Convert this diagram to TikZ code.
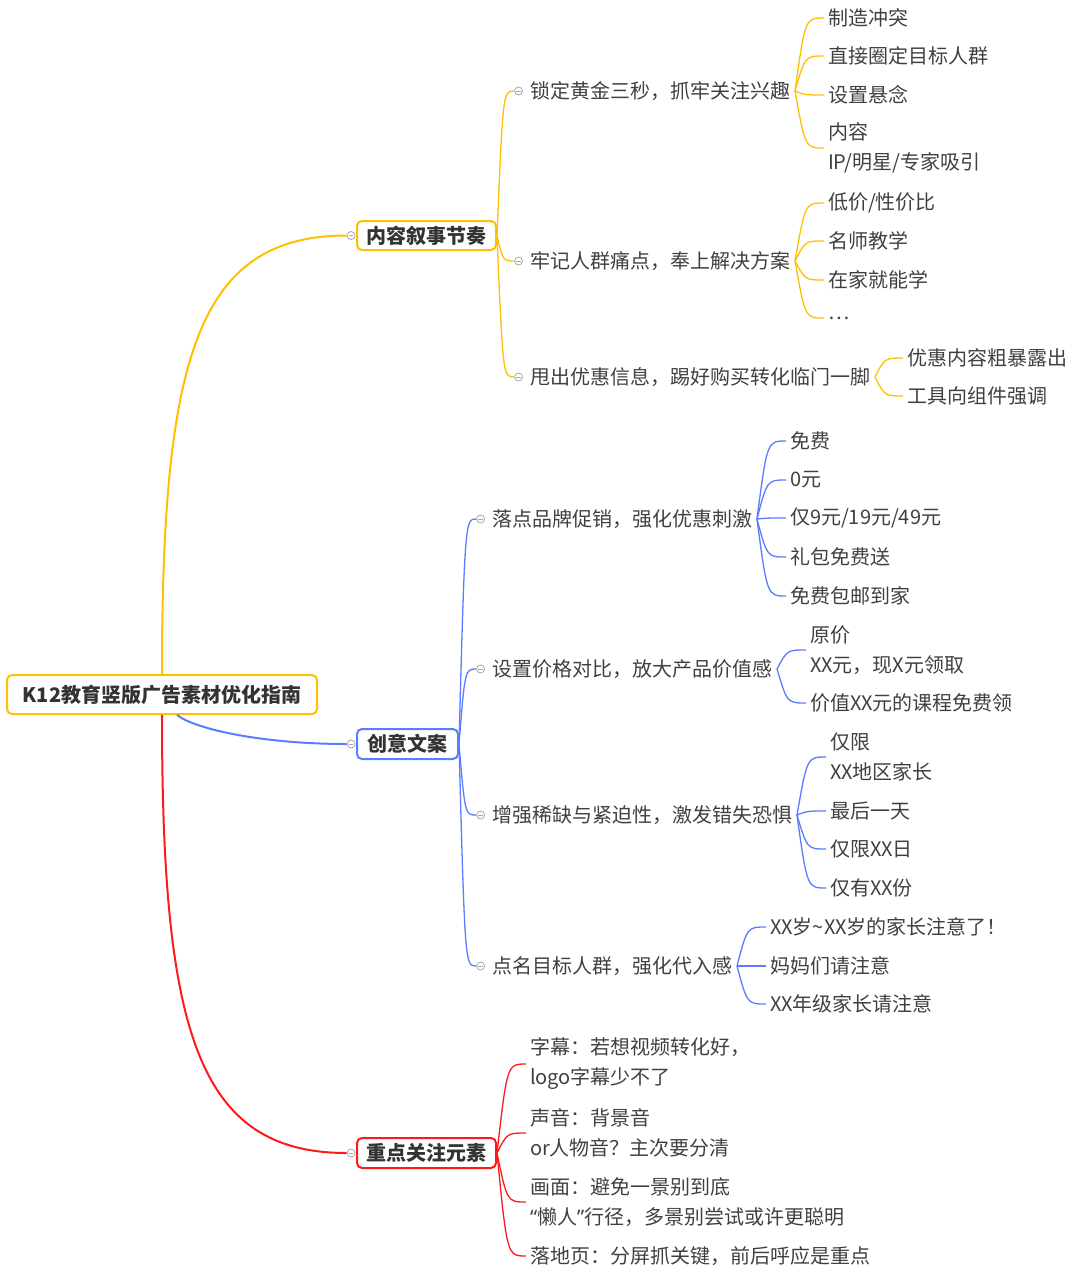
\documentclass[tikz,border=0pt]{standalone}
\usepackage{fontspec}
\setmainfont{Noto Sans CJK SC}
\newfontfamily\quotefont{Noto Sans}
\usetikzlibrary{positioning,calc}

\definecolor{oline}{HTML}{FFC000}
\definecolor{bline}{HTML}{5B7CFF}
\definecolor{rline}{HTML}{FF1A1A}
\definecolor{txt}{HTML}{404040}
\definecolor{foldgray}{HTML}{A8A8A8}

\tikzset{
  topic/.style={draw, line width=2pt, rounded corners=5pt, inner sep=0, fill=white,
    text=txt!80!black, font=\fontsize{20}{30}\selectfont\bfseries},
  sub/.style={inner sep=0, outer xsep=5pt, anchor=west, text=txt, font=\fontsize{20}{30}\selectfont},
  leaf/.style={inner sep=0, outer xsep=4pt, anchor=west, align=left, text=txt, font=\fontsize{20}{30}\selectfont},
  fold/.style={circle, draw=foldgray, fill=white, line width=0.8pt, minimum size=8pt, inner sep=0,
    path picture={\draw[foldgray, line width=0.8pt] ([xshift=-2.2pt]path picture bounding box.center) -- ([xshift=2.2pt]path picture bounding box.center);}},
  fan/.style={to path={let \p1=(\tikztostart), \p2=(\tikztotarget) in
    .. controls ({\x1+0.35*(\x2-\x1)},\y2) .. (\tikztotarget)}},
  trunk/.style={line width=2pt},
  twig/.style={line width=1.3pt},
}

\begin{document}
\begin{tikzpicture}[x=1pt,y=-1pt]
  \useasboundingbox (0,0) rectangle (1080,1278);

  % root and main topics
  \node[topic, draw=oline, minimum width=310pt, minimum height=39pt] (r) at (162,694.5) {K12教育竖版广告素材优化指南};
  \node[topic, draw=oline, minimum width=139pt, minimum height=29pt] (b1) at (426.5,235.5) {内容叙事节奏};
  \node[topic, draw=bline, minimum width=101pt, minimum height=30pt] (b2) at (407.5,744) {创意文案};
  \node[topic, draw=rline, minimum width=139pt, minimum height=30pt] (b3) at (426.5,1153) {重点关注元素};
  \node[fold, left=0.5pt of b1] (c1) {};
  \node[fold, left=0.5pt of b2] (c2) {};
  \node[fold, left=0.5pt of b3] (c3) {};

  % sub topics
  \node[sub] (s11) at (525,91) {锁定黄金三秒，抓牢关注兴趣};
  \node[sub] (s12) at (525,261) {牢记人群痛点，奉上解决方案};
  \node[sub] (s13) at (525,377) {甩出优惠信息，踢好购买转化临门一脚};
  \node[sub] (s21) at (487,519) {落点品牌促销，强化优惠刺激};
  \node[sub] (s22) at (487,669) {设置价格对比，放大产品价值感};
  \node[sub] (s23) at (487,815) {增强稀缺与紧迫性，激发错失恐惧};
  \node[sub] (s24) at (487,966) {点名目标人群，强化代入感};
  \node[fold, left=2pt of s11] (c11) {};
  \node[fold, left=2pt of s12] (c12) {};
  \node[fold, left=2pt of s13] (c13) {};
  \node[fold, left=2pt of s21] (c21) {};
  \node[fold, left=2pt of s22] (c22) {};
  \node[fold, left=2pt of s23] (c23) {};
  \node[fold, left=2pt of s24] (c24) {};

  % leaves
  \node[leaf] (l111) at (824,18) {制造冲突};
  \node[leaf] (l112) at (824,56) {直接圈定目标人群};
  \node[leaf] (l113) at (824,95) {设置悬念};
  \node[leaf] (l114) at (824,148) {内容\\IP/明星/专家吸引};
  \node[leaf] (l121) at (824,203) {低价/性价比};
  \node[leaf] (l122) at (824,241) {名师教学};
  \node[leaf] (l123) at (824,280) {在家就能学};
  \node[leaf] (l124) at (824,318) {…};
  \node[leaf] (l131) at (903,358) {优惠内容粗暴露出};
  \node[leaf] (l132) at (903,396) {工具向组件强调};

  \node[leaf] (l211) at (786,441) {免费};
  \node[leaf] (l212) at (786,480) {0元};
  \node[leaf] (l213) at (786,518) {仅9元/19元/49元};
  \node[leaf] (l214) at (786,557) {礼包免费送};
  \node[leaf] (l215) at (786,596) {免费包邮到家};
  \node[leaf] (l221) at (806,650) {原价\\XX元，现X元领取};
  \node[leaf] (l222) at (806,703) {价值XX元的课程免费领};
  \node[leaf] (l231) at (826,757) {仅限\\XX地区家长};
  \node[leaf] (l232) at (826,811) {最后一天};
  \node[leaf] (l233) at (826,849) {仅限XX日};
  \node[leaf] (l234) at (826,888) {仅有XX份};
  \node[leaf] (l241) at (766,927) {XX岁\textasciitilde XX岁的家长注意了！};
  \node[leaf] (l242) at (766,966) {妈妈们请注意};
  \node[leaf] (l243) at (766,1004) {XX年级家长请注意};

  \node[leaf] (l31) at (526,1064) {字幕：若想视频转化好，\\logo字幕少不了};
  \node[leaf] (l32) at (526,1133) {声音：背景音\\or人物音？主次要分清};
  \node[leaf] (l33) at (526,1202) {画面：避免一景别到底\\{\quotefont “}懒人{\quotefont ”}行径，多景别尝试或许更聪明};
  \node[leaf] (l34) at (526,1256) {落地页：分屏抓关键，前后呼应是重点};

  % root connectors
  \draw[oline, trunk] (r.north) .. controls +(0,-315) and +(-150,0) .. (c1.west);
  \draw[bline, trunk] ([xshift=15pt]r.south) .. controls +(18,14) and +(-85,0) .. (c2.west);
  \draw[rline, trunk] (r.south) .. controls +(0,315) and +(-150,0) .. (c3.west);

  % branch connectors
  \draw[oline, twig] (b1.east) to[fan] (c11.west);
  \draw[oline, twig] (b1.east) to[fan] (c12.west);
  \draw[oline, twig] (b1.east) to[fan] (c13.west);
  \draw[bline, twig] (b2.east) to[fan] (c21.west);
  \draw[bline, twig] (b2.east) to[fan] (c22.west);
  \draw[bline, twig] (b2.east) to[fan] (c23.west);
  \draw[bline, twig] (b2.east) to[fan] (c24.west);

  % leaf connectors
  \draw[oline, twig] (s11.east) to[fan] (l111.west);
  \draw[oline, twig] (s11.east) to[fan] (l112.west);
  \draw[oline, twig] (s11.east) to[fan] (l113.west);
  \draw[oline, twig] (s11.east) to[fan] (l114.west);
  \draw[oline, twig] (s12.east) to[fan] (l121.west);
  \draw[oline, twig] (s12.east) to[fan] (l122.west);
  \draw[oline, twig] (s12.east) to[fan] (l123.west);
  \draw[oline, twig] (s12.east) to[fan] (l124.west);
  \draw[oline, twig] (s13.east) to[fan] (l131.west);
  \draw[oline, twig] (s13.east) to[fan] (l132.west);

  \draw[bline, twig] (s21.east) to[fan] (l211.west);
  \draw[bline, twig] (s21.east) to[fan] (l212.west);
  \draw[bline, twig] (s21.east) to[fan] (l213.west);
  \draw[bline, twig] (s21.east) to[fan] (l214.west);
  \draw[bline, twig] (s21.east) to[fan] (l215.west);
  \draw[bline, twig] (s22.east) to[fan] (l221.west);
  \draw[bline, twig] (s22.east) to[fan] (l222.west);
  \draw[bline, twig] (s23.east) to[fan] (l231.west);
  \draw[bline, twig] (s23.east) to[fan] (l232.west);
  \draw[bline, twig] (s23.east) to[fan] (l233.west);
  \draw[bline, twig] (s23.east) to[fan] (l234.west);
  \draw[bline, twig] (s24.east) to[fan] (l241.west);
  \draw[bline, twig] (s24.east) to[fan] (l242.west);
  \draw[bline, twig] (s24.east) to[fan] (l243.west);

  \draw[rline, twig] (b3.east) to[fan] (l31.west);
  \draw[rline, twig] (b3.east) to[fan] (l32.west);
  \draw[rline, twig] (b3.east) to[fan] (l33.west);
  \draw[rline, twig] (b3.east) to[fan] (l34.west);
\end{tikzpicture}
\end{document}
